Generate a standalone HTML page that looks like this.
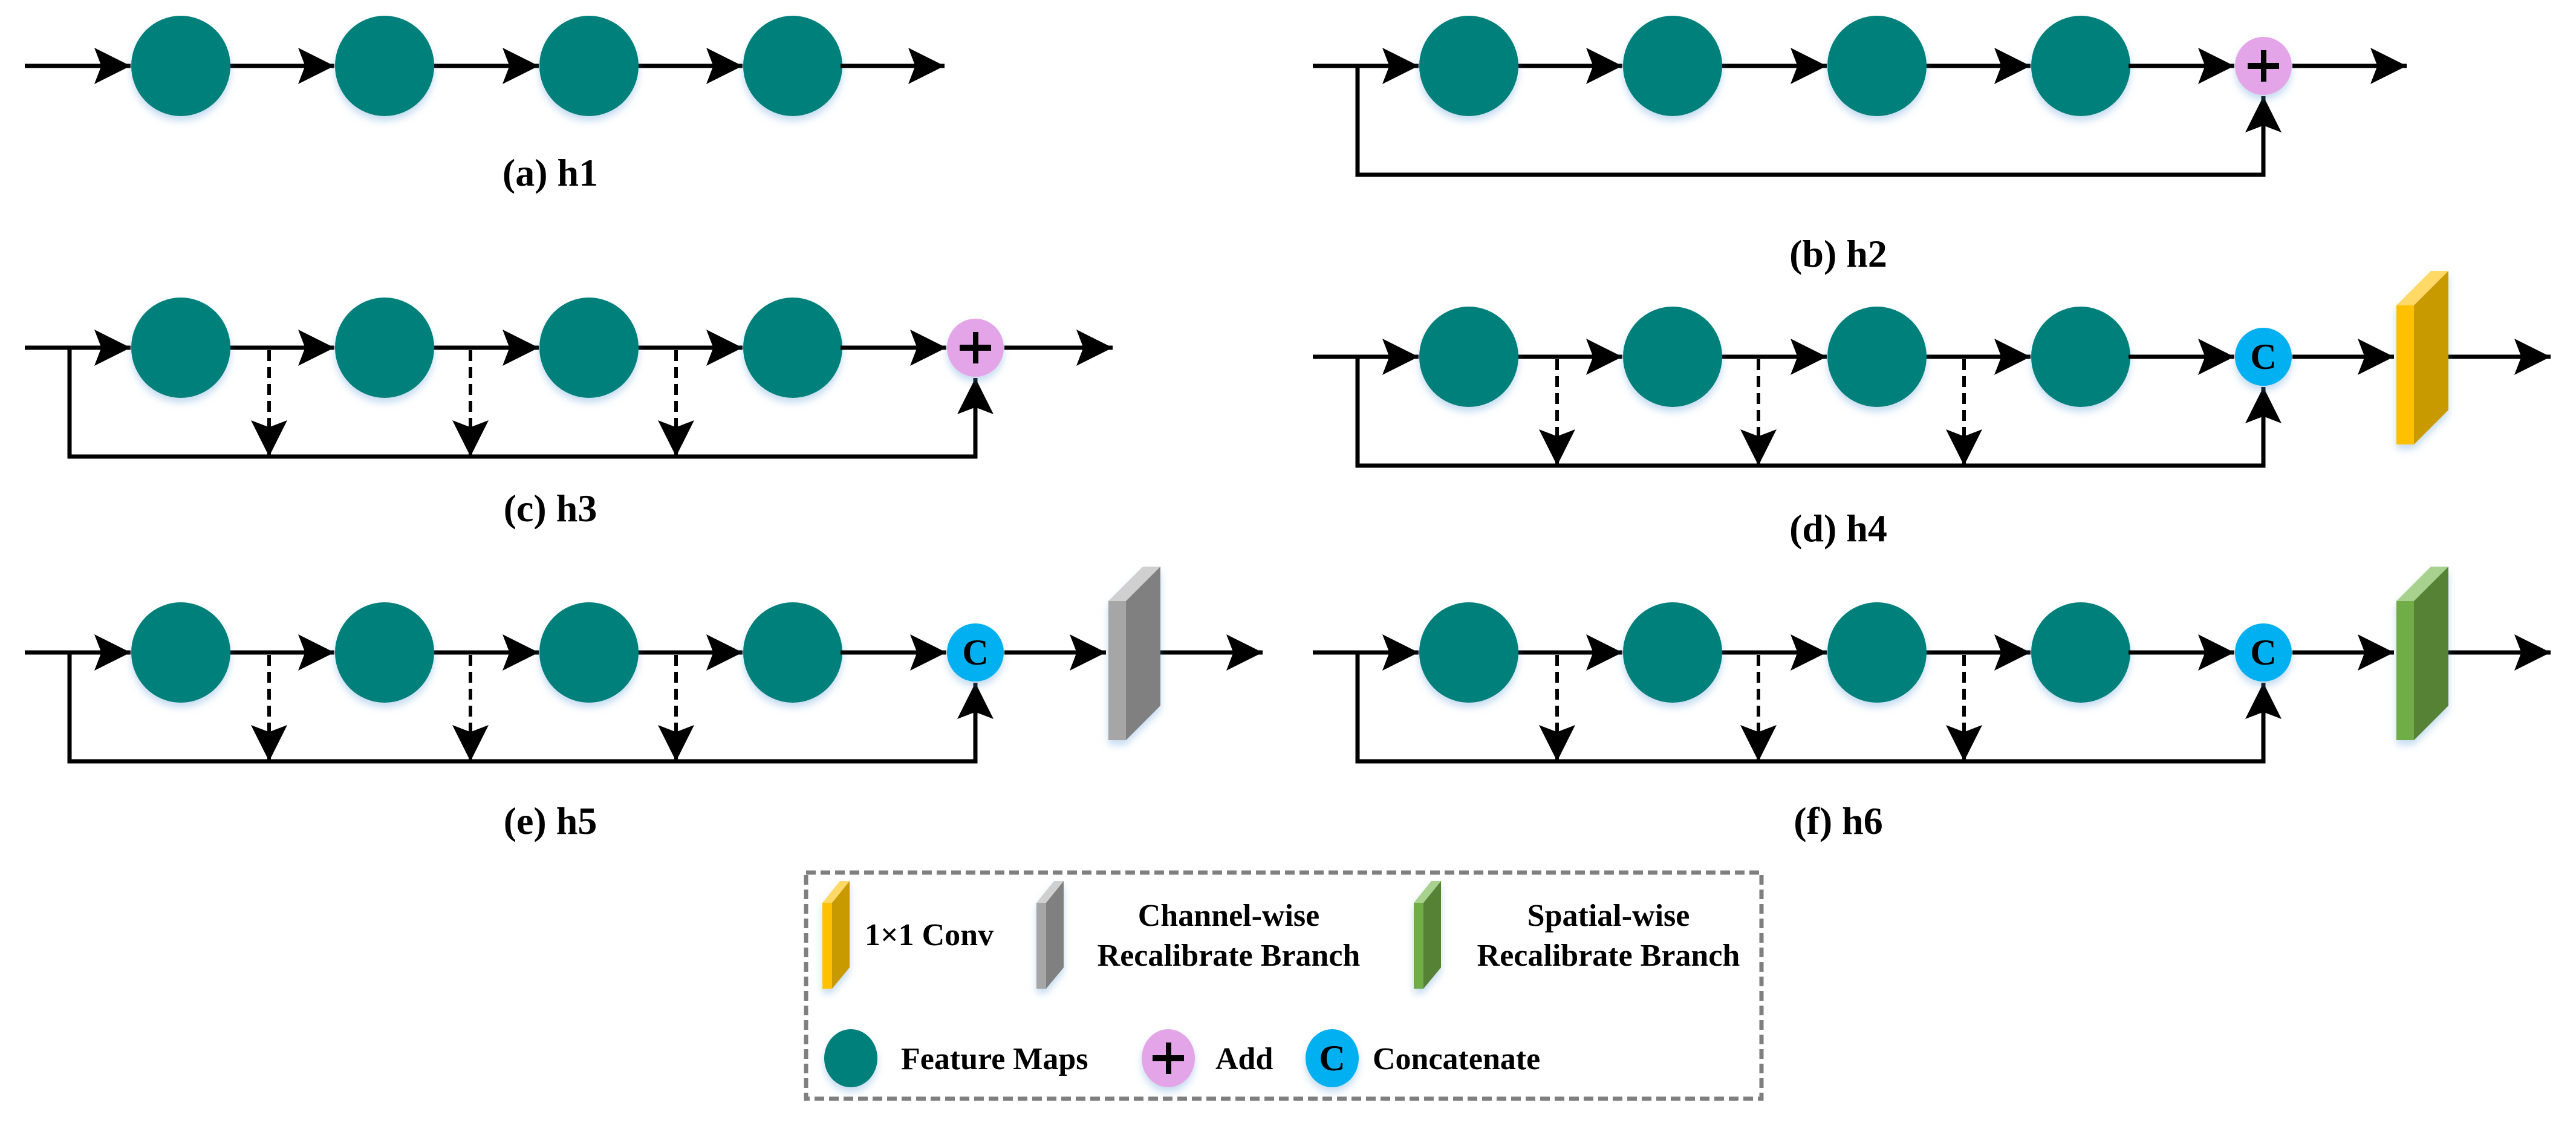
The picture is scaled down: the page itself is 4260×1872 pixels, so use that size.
<!DOCTYPE html>
<html><head><meta charset="utf-8"><style>
html,body{margin:0;padding:0;background:#fff}
svg{display:block}
svg text{font-family:"Liberation Serif","Times New Roman","DejaVu Serif",serif;font-weight:bold;fill:#000}
</style></head><body>
<svg width="4260" height="1872" viewBox="0 0 4260 1872" xmlns="http://www.w3.org/2000/svg" font-family="Liberation Serif, Times New Roman, DejaVu Serif, serif">
<defs>
<marker id="ah" markerUnits="userSpaceOnUse" markerWidth="60" markerHeight="60" refX="52" refY="26" orient="auto" viewBox="0 0 52 52">
<path d="M0,0 L52,26 L0,52 L10,26 z" fill="#000"/></marker>
<filter id="sh" x="-30%" y="-30%" width="160%" height="160%"><feDropShadow dx="0" dy="8" stdDeviation="6" flood-color="#5b9bd5" flood-opacity="0.35"/></filter>
<g id="base">
 <g stroke="#000" stroke-width="7" fill="none" marker-end="url(#ah)">
  <line x1="41" y1="0" x2="216" y2="0"/>
  <line x1="380" y1="0" x2="553" y2="0"/>
  <line x1="717" y1="0" x2="891" y2="0"/>
  <line x1="1055" y1="0" x2="1228" y2="0"/>
 </g>
 <g fill="#00807a" filter="url(#sh)">
  <ellipse cx="299" cy="0" rx="82" ry="83"/>
  <ellipse cx="636" cy="0" rx="82" ry="83"/>
  <ellipse cx="974" cy="0" rx="82" ry="83"/>
  <ellipse cx="1311" cy="0" rx="82" ry="83"/>
 </g>
</g>
<g id="loop">
 <path d="M115,0 V180 H1613 V50" stroke="#000" stroke-width="7" fill="none" marker-end="url(#ah)"/>
</g>
<g id="dash">
 <g stroke="#000" stroke-width="6" fill="none" stroke-dasharray="18 10" marker-end="url(#ah)">
  <line x1="445" y1="4" x2="445" y2="180"/>
  <line x1="778" y1="4" x2="778" y2="180"/>
  <line x1="1118" y1="4" x2="1118" y2="180"/>
 </g>
</g>
<g id="plus">
 <line x1="1390" y1="0" x2="1565" y2="0" stroke="#000" stroke-width="7" marker-end="url(#ah)"/>
 <ellipse cx="1613" cy="0" rx="47" ry="48" fill="#e4a5e8" filter="url(#sh)"/>
 <rect x="1609" y="-26" width="9" height="52" fill="#000"/>
 <rect x="1587" y="-5" width="52" height="10" fill="#000"/>
</g>
<g id="cat">
 <line x1="1390" y1="0" x2="1565" y2="0" stroke="#000" stroke-width="7" marker-end="url(#ah)"/>
 <ellipse cx="1613" cy="0" rx="47" ry="48" fill="#00b0f0" filter="url(#sh)"/>
 <text x="1613" y="20" font-size="60" text-anchor="middle">C</text>
 <line x1="1661" y1="0" x2="1829" y2="0" stroke="#000" stroke-width="7" marker-end="url(#ah)"/>
 <line x1="1915" y1="0" x2="2088" y2="0" stroke="#000" stroke-width="7" marker-end="url(#ah)"/>
</g>
</defs>

<g transform="translate(0,109)">
 <use href="#base"/>
 <line x1="1390" y1="0" x2="1562" y2="0" stroke="#000" stroke-width="7" marker-end="url(#ah)"/>
</g>
<text x="910" y="307" font-size="64" text-anchor="middle">(a) h1</text>

<g transform="translate(2130,109)">
 <use href="#base"/><use href="#loop"/><use href="#plus"/>
 <line x1="1661" y1="0" x2="1850" y2="0" stroke="#000" stroke-width="7" marker-end="url(#ah)"/>
</g>
<text x="3040" y="441" font-size="64" text-anchor="middle">(b) h2</text>

<g transform="translate(0,575)">
 <use href="#base"/><use href="#loop"/><use href="#dash"/><use href="#plus"/>
 <line x1="1661" y1="0" x2="1840" y2="0" stroke="#000" stroke-width="7" marker-end="url(#ah)"/>
</g>
<text x="910" y="862" font-size="64" text-anchor="middle">(c) h3</text>

<g transform="translate(2130,590)">
 <use href="#base"/><use href="#loop"/><use href="#dash"/><use href="#cat"/>
 <g filter="url(#sh)">
  <polygon points="1833,-85 1862,-85 1919,-142 1890,-142" fill="#ffd966"/>
  <polygon points="1862,-85 1919,-142 1919,88 1862,145" fill="#c99a00"/>
  <rect x="1833" y="-85" width="29" height="230" fill="#ffc000"/>
 </g>
</g>
<text x="3040" y="895" font-size="64" text-anchor="middle">(d) h4</text>

<g transform="translate(0,1079)">
 <use href="#base"/><use href="#loop"/><use href="#dash"/><use href="#cat"/>
 <g filter="url(#sh)">
  <polygon points="1833,-85 1862,-85 1919,-142 1890,-142" fill="#d0d0d0"/>
  <polygon points="1862,-85 1919,-142 1919,88 1862,145" fill="#808080"/>
  <rect x="1833" y="-85" width="29" height="230" fill="#a6a6a6"/>
 </g>
</g>
<text x="910" y="1379" font-size="64" text-anchor="middle">(e) h5</text>

<g transform="translate(2130,1079)">
 <use href="#base"/><use href="#loop"/><use href="#dash"/><use href="#cat"/>
 <g filter="url(#sh)">
  <polygon points="1833,-85 1862,-85 1919,-142 1890,-142" fill="#a9d18e"/>
  <polygon points="1862,-85 1919,-142 1919,88 1862,145" fill="#548235"/>
  <rect x="1833" y="-85" width="29" height="230" fill="#70ad47"/>
 </g>
</g>
<text x="3040" y="1379" font-size="64" text-anchor="middle">(f) h6</text>

<rect x="1333" y="1443" width="1580" height="374" fill="none" stroke="#7f7f7f" stroke-width="7" stroke-dasharray="16 8"/>
<g filter="url(#sh)">
 <polygon points="1360,1493 1376,1493 1405,1457 1389,1457" fill="#ffd966"/>
 <polygon points="1376,1493 1405,1457 1405,1600 1376,1635" fill="#c99a00"/>
 <rect x="1360" y="1493" width="16" height="142" fill="#ffc000"/>
 <polygon points="1714,1493 1730,1493 1759,1457 1743,1457" fill="#d0d0d0"/>
 <polygon points="1730,1493 1759,1457 1759,1600 1730,1635" fill="#808080"/>
 <rect x="1714" y="1493" width="16" height="142" fill="#a6a6a6"/>
 <polygon points="2338,1493 2354,1493 2383,1457 2367,1457" fill="#a9d18e"/>
 <polygon points="2354,1493 2383,1457 2383,1600 2354,1635" fill="#548235"/>
 <rect x="2338" y="1493" width="16" height="142" fill="#70ad47"/>
</g>
<text x="1430" y="1563" font-size="52">1×1 Conv</text>
<text x="2032" y="1531" font-size="52" text-anchor="middle">Channel-wise</text>
<text x="2032" y="1597" font-size="52" text-anchor="middle">Recalibrate Branch</text>
<text x="2660" y="1531" font-size="52" text-anchor="middle">Spatial-wise</text>
<text x="2660" y="1597" font-size="52" text-anchor="middle">Recalibrate Branch</text>

<ellipse cx="1407" cy="1750" rx="44" ry="48" fill="#00807a" filter="url(#sh)"/>
<text x="1490" y="1768" font-size="52">Feature Maps</text>
<ellipse cx="1932" cy="1750" rx="44" ry="48" fill="#e4a5e8" filter="url(#sh)"/>
<rect x="1928" y="1724" width="9" height="52" fill="#000"/>
<rect x="1906" y="1745" width="52" height="10" fill="#000"/>
<text x="2010" y="1768" font-size="52">Add</text>
<ellipse cx="2203" cy="1750" rx="44" ry="48" fill="#00b0f0" filter="url(#sh)"/>
<text x="2203" y="1770" font-size="60" text-anchor="middle">C</text>
<text x="2270" y="1768" font-size="52">Concatenate</text>
</svg>
</body></html>
